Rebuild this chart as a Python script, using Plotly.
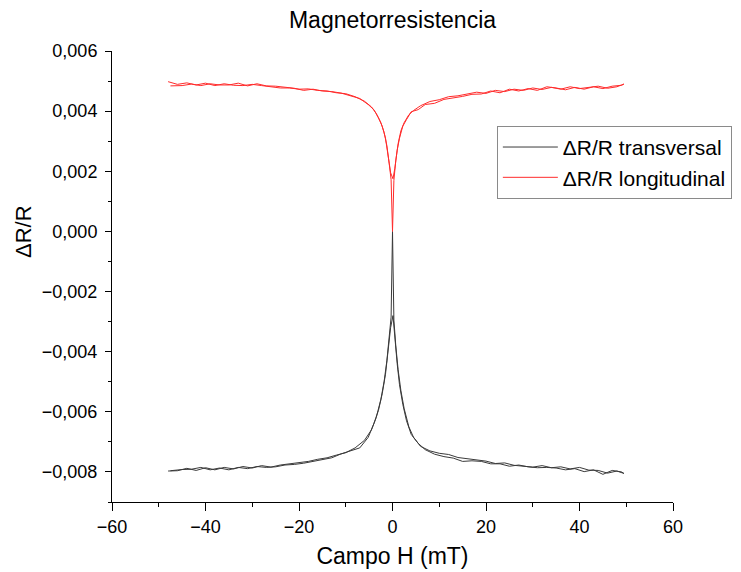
import plotly.graph_objects as go

# Field sweep (mT): up sweep then down sweep
h_up = [-48, -46, -44, -42, -40, -38, -36, -34, -32, -30, -28, -26, -24, -22, -20,
        -18, -16, -14, -12, -10, -8, -6, -4.5, -3.5, -2.5, -1.8, -1.2, -0.7, -0.3, 0,
        0.3, 0.7, 1.2, 1.8, 2.5, 3.5, 4.5, 6, 8, 10, 12, 14, 16, 18, 20, 22, 24, 26,
        28, 30, 32, 34, 36, 38, 40, 42, 44, 46, 48, 49.5]
h_down = [49, 47, 45, 43, 41, 39, 37, 35, 33, 31, 29, 27, 25, 23, 21, 19, 17, 15, 13,
          11, 9, 7, 5.5, 4, 3, 2.2, 1.5, 1.0, 0.5, 0.1, -0.4, -0.9, -1.5, -2.2, -3, -4,
          -5.2, -7, -9, -11, -13, -15, -17, -19, -21, -23, -25, -27, -29, -31, -33, -35,
          -37, -39, -41, -43, -45, -47.5]

# ΔR/R transversal
trans_up = [-0.00797, -0.00796, -0.00788, -0.00795, -0.00786, -0.00793, -0.00785, -0.00790,
            -0.00782, -0.00787, -0.00779, -0.00784, -0.00777, -0.00773, -0.00768, -0.00765,
            -0.00758, -0.00753, -0.00744, -0.00736, -0.00720, -0.00695, -0.00660, -0.00620,
            -0.00560, -0.00500, -0.00430, -0.00360, -0.00285, 0.0,
            -0.00295, -0.00380, -0.00460, -0.00530, -0.00590, -0.00650, -0.00685, -0.00715,
            -0.00730, -0.00738, -0.00742, -0.00752, -0.00756, -0.00762, -0.00764, -0.00772,
            -0.00770, -0.00778, -0.00780, -0.00784, -0.00779, -0.00786, -0.00783, -0.00790,
            -0.00785, -0.00794, -0.00795, -0.00804, -0.00797, -0.00805]
trans_down = [-0.00800, -0.00795, -0.00808, -0.00793, -0.00799, -0.00789, -0.00793, -0.00787,
              -0.00785, -0.00786, -0.00783, -0.00777, -0.00781, -0.00773, -0.00773, -0.00765,
              -0.00763, -0.00765, -0.00754, -0.00749, -0.00741, -0.00726, -0.00705, -0.00675,
              -0.00630, -0.00575, -0.00510, -0.00440, -0.00350, -0.00280, -0.00320, -0.00400,
              -0.00475, -0.00540, -0.00595, -0.00640, -0.00685, -0.00720, -0.00730, -0.00740,
              -0.00753, -0.00759, -0.00766, -0.00771, -0.00775, -0.00777, -0.00783, -0.00785,
              -0.00782, -0.00789, -0.00785, -0.00793, -0.00787, -0.00793, -0.00785, -0.00791,
              -0.00792, -0.00796]

# ΔR/R longitudinal
long_up = [0.00498, 0.00489, 0.00494, 0.00487, 0.00493, 0.00485, 0.00491, 0.00486, 0.00485,
           0.00489, 0.00485, 0.00481, 0.00477, 0.00477, 0.00473, 0.00474, 0.00469, 0.00467,
           0.00461, 0.00458, 0.00448, 0.00433, 0.00414, 0.00393, 0.00362, 0.00330, 0.00285,
           0.00225, 0.00172, 0.0,
           0.00170, 0.00235, 0.00292, 0.00335, 0.00362, 0.00388, 0.00402, 0.00418, 0.00432,
           0.00438, 0.00448, 0.00451, 0.00456, 0.00463, 0.00459, 0.00469, 0.00465, 0.00473,
           0.00469, 0.00477, 0.00472, 0.00479, 0.00473, 0.00481, 0.00475, 0.00479, 0.00483,
           0.00476, 0.00481, 0.00490]
long_down = [0.00486, 0.00483, 0.00475, 0.00481, 0.00473, 0.00479, 0.00471, 0.00477, 0.00481,
             0.00469, 0.00475, 0.00467, 0.00473, 0.00461, 0.00467, 0.00457, 0.00456, 0.00449,
             0.00443, 0.00439, 0.00426, 0.00422, 0.00405, 0.00398, 0.00372, 0.00350, 0.00310,
             0.00270, 0.00210, 0.00175, 0.00195, 0.00255, 0.00310, 0.00350, 0.00378, 0.00405,
             0.00422, 0.00442, 0.00452, 0.00460, 0.00465, 0.00467, 0.00473, 0.00469, 0.00476,
             0.00480, 0.00483, 0.00484, 0.00491, 0.00484, 0.00493, 0.00487, 0.00487, 0.00491,
             0.00485, 0.00490, 0.00485, 0.00484]

x_ticks = [-60, -40, -20, 0, 20, 40, 60]
y_ticks = [0.006, 0.004, 0.002, 0.000, -0.002, -0.004, -0.006, -0.008]

h_all = h_up + h_down
fig = go.Figure()
fig.add_trace(go.Scatter(x=h_all, y=trans_up + trans_down, mode="lines",
                         name="ΔR/R transversal",
                         line=dict(color="#3a3a3a", width=1)))
fig.add_trace(go.Scatter(x=h_all, y=long_up + long_down, mode="lines",
                         name="ΔR/R longitudinal",
                         line=dict(color="#ff2b2b", width=1)))

# page body has an 8px margin: figure is placed at (8, 8)
W, H = 733, 564
font_family = "Liberation Sans, Arial, sans-serif"
fig.update_layout(
    width=W, height=H,
    margin=dict(l=104, r=68, t=43, b=70, autoexpand=False),
    paper_bgcolor="white", plot_bgcolor="white",
    separators=", ",
    font=dict(family=font_family, color="black", size=18),
    title=dict(text="Magnetorresistencia", x=0.5, xref="paper", xanchor="center",
               y=1 - 12 / H, yref="container", yanchor="middle",
               font=dict(size=23, family=font_family, color="black")),
    showlegend=True,
    legend=dict(x=0.686, y=0.834, xanchor="left", yanchor="top",
                bgcolor="white", bordercolor="#8a8a8a", borderwidth=1,
                font=dict(size=21, family=font_family, color="black"),
                itemwidth=55, tracegroupgap=0),
    annotations=[dict(text="ΔR/R", xref="paper", yref="paper",
                      x=-(112 - 23) / 561, y=(502 - 232) / 451,
                      xanchor="center", yanchor="middle", textangle=-90,
                      showarrow=False, font=dict(size=22, family=font_family,
                                                 color="black"))],
)
fig.update_xaxes(range=[-60, 60], tickvals=x_ticks, ticks="outside", ticklen=8,
                 tickwidth=1, tickcolor="black", showline=True, linecolor="black",
                 linewidth=1, showgrid=False, zeroline=False, automargin=False,
                 minor=dict(dtick=10, ticks="outside", ticklen=4, tickcolor="black",
                            showgrid=False),
                 title=dict(text="Campo H (mT)", font=dict(size=23), standoff=12))
fig.update_yaxes(range=[-0.009, 0.006], tickvals=y_ticks, tickformat=".3f",
                 ticks="outside", ticklen=6, tickwidth=1, tickcolor="black",
                 showline=True, linecolor="black", linewidth=1, showgrid=False,
                 zeroline=False, automargin=False, ticklabelstandoff=4,
                 minor=dict(dtick=0.001, ticks="outside", ticklen=3, tickcolor="black",
                            showgrid=False))

fig.write_html("out.html")
